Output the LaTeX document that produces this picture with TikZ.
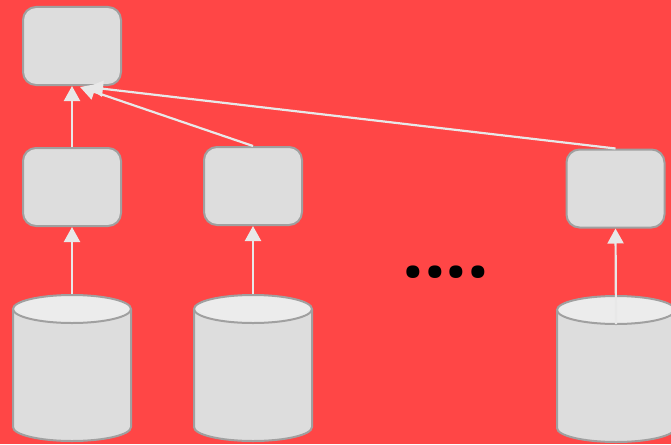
\documentclass[tikz,border=0pt]{standalone}
\usepackage{fontspec}
\setmainfont{Open Sans}
\usetikzlibrary{arrows.meta}
\definecolor{bgred}{HTML}{FF4646}
\definecolor{boxfill}{HTML}{DDDDDD}
\definecolor{boxline}{HTML}{A0A0A0}
\definecolor{capfill}{HTML}{ECECEC}
\definecolor{arrowgray}{HTML}{E8E8E8}

\begin{document}
\begin{tikzpicture}[x=1pt,y=-1pt]
    \tikzstyle{box}=[draw=boxline,fill=boxfill,line width=2pt,rounded corners=13pt,minimum width=98pt,minimum height=78pt,inner sep=0pt]
    \tikzstyle{dbline}=[draw=boxline,line width=2pt]
    \tikzstyle{link}=[draw=arrowgray,line width=2.2pt,-{Triangle[width=16pt,length=15pt]}]
    \fill[bgred] (0,0) rectangle (671,444);
    \useasboundingbox (0,0) rectangle (671,444);
    % boxes
    \node[box] (top) at (72,46) {};
    \node[box] (m1) at (72,187) {};
    \node[box] (m2) at (253,186) {};
    \node[box] (m3) at (615.5,188.5) {};
    % databases
    \foreach \n/\x/\y in {c1/72/309, c2/253/309, c3/616/310} {
        \draw[dbline,fill=boxfill] (\x-59,\y) -- (\x-59,\y+118)
            arc[start angle=180,end angle=0,x radius=59,y radius=14] -- (\x+59,\y);
        \draw[dbline,fill=capfill] (\x,\y) ellipse[x radius=59,y radius=14];
        \coordinate (\n top) at (\x,\y-15);
        \coordinate (\n front) at (\x,\y+14);
    }
    \node (dots) at (446,272) {\fontsize{76}{76}\selectfont\bfseries ....};
    % arrows
    \draw[link] (c1top) -- (m1.south);
    \draw[link] (c2top) -- (m2.south);
    \draw[link] (c3front) -- (m3.south);
    \draw[link] (m1.north) -- (top.south);
    \draw[link] (m2.north) -- ([xshift=8pt,yshift=-1pt]top.south);
    \draw[link] (m3.north) -- ([xshift=16pt,yshift=-1pt]top.south);
\end{tikzpicture}
\end{document}
